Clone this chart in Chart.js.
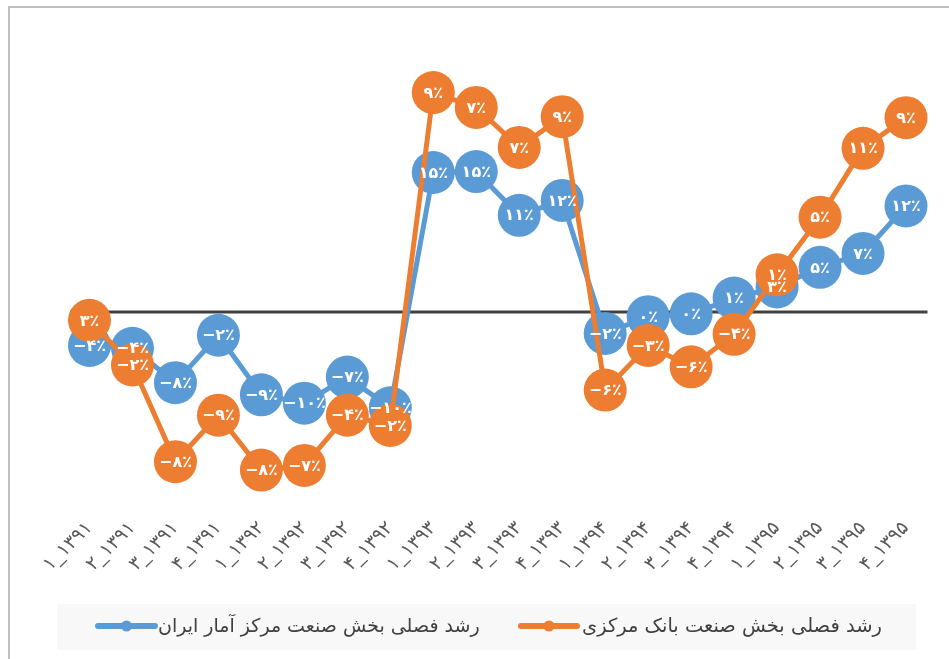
<!DOCTYPE html>
<html>
<head>
<meta charset="utf-8">
<script src="https://cdn.jsdelivr.net/npm/chart.js@4.4.1/dist/chart.umd.min.js"></script>
<style>
html,body{margin:0;padding:0;background:#ffffff;}
#wrap{width:949px;height:659px;position:relative;overflow:hidden;}
canvas{display:block;}
</style>
</head>
<body>
<div id="wrap"><canvas id="c" width="949" height="659"></canvas></div>
<script>
// Category labels (season_year), as shown on the axis
const categories = [
  '۱_۱۳۹۱','۲_۱۳۹۱','۳_۱۳۹۱','۴_۱۳۹۱',
  '۱_۱۳۹۲','۲_۱۳۹۲','۳_۱۳۹۲','۴_۱۳۹۲',
  '۱_۱۳۹۳','۲_۱۳۹۳','۳_۱۳۹۳','۴_۱۳۹۳',
  '۱_۱۳۹۴','۲_۱۳۹۴','۳_۱۳۹۴','۴_۱۳۹۴',
  '۱_۱۳۹۵','۲_۱۳۹۵','۳_۱۳۹۵','۴_۱۳۹۵'
];

const seriesAmarName = 'رشد فصلی بخش صنعت مرکز آمار ایران';
const seriesBankName = 'رشد فصلی بخش صنعت بانک مرکزی';

// Plotted values
const amarValues = [-3.6, -3.9, -7.6, -2.5, -8.9, -9.8, -7.0, -10.3, 15.0, 15.1, 10.4, 12.0, -2.3, -0.5, -0.2, 1.5, 2.7, 4.8, 6.3, 11.4];
const bankValues = [-0.9, -5.7, -16.1, -11.1, -17.0, -16.5, -11.1, -12.2, 23.6, 22.0, 17.7, 21.0, -8.4, -3.6, -5.9, -2.4, 4.0, 10.2, 17.6, 20.9];

// Data label texts, as printed on the markers
const amarLabels = ['−۴٪','−۴٪','−۸٪','−۲٪','−۹٪','−۱۰٪','−۷٪','−۱۰٪','۱۵٪','۱۵٪','۱۱٪','۱۲٪','−۲٪','۰٪','۰٪','۱٪','۳٪','۵٪','۷٪','۱۲٪'];
const bankLabels = ['۳٪','−۲٪','−۸٪','−۹٪','−۸٪','−۷٪','−۴٪','−۲٪','۹٪','۷٪','۷٪','۹٪','−۶٪','−۳٪','−۶٪','−۴٪','۱٪','۵٪','۱۱٪','۹٪'];

const BLUE = '#5b9bd5';
const ORANGE = '#ed7d31';
const FONT = "'DejaVu Sans', 'Noto Sans', sans-serif";

Chart.defaults.font.family = FONT;

const framePlugin = {
  id: 'frame',
  beforeDraw(chart) {
    const ctx = chart.ctx;
    ctx.save();
    ctx.fillStyle = '#ffffff';
    ctx.fillRect(0, 0, chart.width, chart.height);
    ctx.strokeStyle = '#bfbfbf';
    ctx.lineWidth = 2;
    ctx.strokeRect(9, 7, chart.width + 20, chart.height + 20);
    ctx.restore();
  },
  beforeDatasetsDraw(chart) {
    const ctx = chart.ctx;
    const y = chart.scales.y.getPixelForValue(0);
    ctx.save();
    ctx.strokeStyle = '#404040';
    ctx.lineWidth = 3;
    ctx.beginPath();
    ctx.moveTo(chart.chartArea.left + 2, y);
    ctx.lineTo(chart.chartArea.right, y);
    ctx.stroke();
    ctx.restore();
  }
};

const labelPlugin = {
  id: 'pointLabels',
  afterDatasetsDraw(chart) {
    const ctx = chart.ctx;
    ctx.save();
    ctx.fillStyle = '#ffffff';
    ctx.font = 'bold 16px ' + FONT;
    ctx.textAlign = 'center';
    ctx.textBaseline = 'middle';
    ctx.direction = 'ltr';
    chart.data.datasets.forEach((ds, di) => {
      const meta = chart.getDatasetMeta(di);
      meta.data.forEach((pt, i) => {
        ctx.fillText(ds.pointLabels[i], pt.x, pt.y + 1);
      });
    });
    ctx.restore();
  }
};

const legendPlugin = {
  id: 'customLegend',
  afterDraw(chart) {
    const ctx = chart.ctx;
    ctx.save();
    ctx.fillStyle = '#f8f8f8';
    ctx.fillRect(57, 604, 859, 46);
    const items = [
      {color: BLUE, x1: 98, x2: 155, text: seriesAmarName, tx: 158, tw: 322},
      {color: ORANGE, x1: 521, x2: 577, text: seriesBankName, tx: 582, tw: 300}
    ];
    const cy = 626;
    items.forEach(it => {
      ctx.strokeStyle = it.color;
      ctx.lineWidth = 6;
      ctx.lineCap = 'round';
      ctx.beginPath();
      ctx.moveTo(it.x1, cy);
      ctx.lineTo(it.x2, cy);
      ctx.stroke();
      ctx.fillStyle = it.color;
      ctx.beginPath();
      ctx.arc((it.x1 + it.x2) / 2, cy, 5.5, 0, Math.PI * 2);
      ctx.fill();
      ctx.font = '18px ' + FONT;
      const w = ctx.measureText(it.text).width;
      let fs = Math.max(12, Math.min(22, 18 * it.tw / w));
      ctx.font = fs + 'px ' + FONT;
      ctx.fillStyle = '#404040';
      ctx.textAlign = 'left';
      ctx.textBaseline = 'middle';
      ctx.fillText(it.text, it.tx, cy + 1);
    });
    ctx.restore();
  }
};

new Chart(document.getElementById('c'), {
  type: 'line',
  data: {
    labels: categories,
    datasets: [
      {
        label: seriesAmarName,
        data: amarValues,
        pointLabels: amarLabels,
        borderColor: BLUE,
        backgroundColor: BLUE,
        pointBackgroundColor: BLUE,
        pointBorderColor: BLUE,
        borderWidth: 5,
        pointRadius: 21.5,
        pointHoverRadius: 21.5,
        pointBorderWidth: 0,
        tension: 0,
        order: 1
      },
      {
        label: seriesBankName,
        data: bankValues,
        pointLabels: bankLabels,
        borderColor: ORANGE,
        backgroundColor: ORANGE,
        pointBackgroundColor: ORANGE,
        pointBorderColor: ORANGE,
        borderWidth: 5,
        pointRadius: 21.5,
        pointHoverRadius: 21.5,
        pointBorderWidth: 0,
        tension: 0,
        order: 0
      }
    ]
  },
  options: {
    responsive: false,
    animation: false,
    devicePixelRatio: 1,
    layout: { padding: { left: 68, right: 15, top: 33, bottom: 0 } },
    plugins: { legend: { display: false }, tooltip: { enabled: false } },
    scales: {
      x: {
        type: 'category',
        offset: true,
        grid: { display: false, drawTicks: false },
        border: { display: false },
        ticks: {
          color: '#595959',
          font: { size: 19 },
          maxRotation: 45,
          minRotation: 45,
          autoSkip: false,
          padding: 19
        },
        afterFit(scale) { scale.height = 161; }
      },
      y: {
        display: false,
        min: -20,
        max: 30
      }
    }
  },
  plugins: [framePlugin, labelPlugin, legendPlugin]
});
</script>
</body>
</html>
